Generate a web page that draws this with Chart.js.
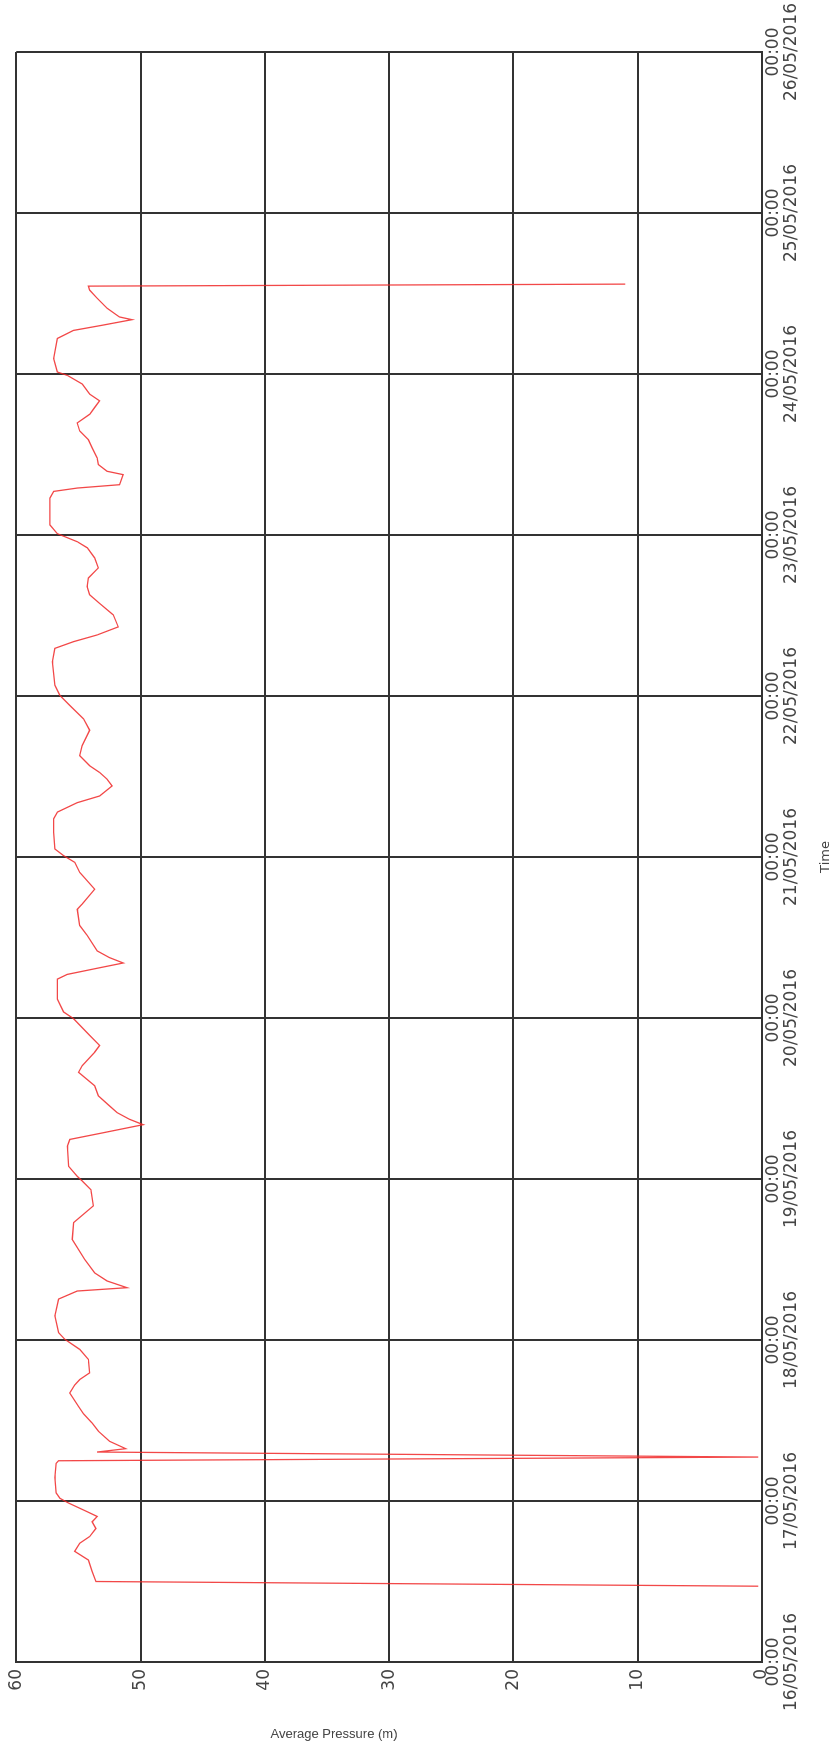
<!DOCTYPE html>
<html>
<head>
<meta charset="utf-8">
<script src="https://cdn.jsdelivr.net/npm/chart.js@4"></script>
<style>
  html, body { margin: 0; padding: 0; background: #fff; overflow: hidden; }
  /* the chart is drawn landscape and turned a quarter turn to the left */
  #wrap {
    position: absolute; left: 0; top: 0;
    width: 1748px; height: 833px;
    transform-origin: 0 0;
    transform: translate(0, 1748px) rotate(-90deg);
  }
</style>
</head>
<body>
<div id="wrap"><canvas id="chart" width="1748" height="833"></canvas></div>
<script>
// hours since 16/05/2016 00:00
const hours = [
  11.3, 12.0, 13.5, 15.2, 16.5, 17.7, 18.7, 19.9, 20.9, 21.7, 22.4, 23.7, 24.4, 25.2, 27.5, 29.6,
  30.0, 30.55, 31.3, 31.8, 32.9, 34.4, 35.6, 37.0, 38.1, 40.1, 41.3, 42.1, 43.1, 45.1, 46.6, 48.1,
  49.1, 51.6, 54.1, 55.3, 55.8, 56.8, 58.0, 60.0, 63.0, 65.5, 68.0, 70.4, 71.7, 72.4, 73.9, 76.9,
  77.9, 78.9, 80.1, 80.9, 81.9, 82.9, 84.4, 85.9, 87.9, 88.9, 90.9, 91.9, 93.4, 95.9, 96.9, 98.8,
  101.8, 102.5, 103.3, 104.2, 105.0, 106.0, 108.3, 109.8, 112.2, 113.0, 115.2, 117.7, 119.2, 120.2,
  121.2, 123.7, 125.7, 126.7, 128.1, 129.1, 130.6, 131.6, 132.6, 133.6, 135.1, 136.6, 138.9, 140.6,
  142.6, 144.1, 145.6, 149.1, 151.1, 152.1, 153.1, 154.3, 156.1, 157.8, 159.1, 160.3, 161.6, 163.1,
  164.6, 166.1, 167.0, 168.2, 169.5, 173.5, 174.5, 175.0, 175.5, 177.0, 177.5, 178.5, 179.5, 181.0,
  182.2, 183.5, 184.7, 186.0, 187.0, 188.0, 189.0, 190.5, 191.8, 192.3, 194.3, 197.3, 198.5, 199.3,
  200.1, 200.5, 201.8, 203.3, 204.5, 205.1, 205.4
];
// average pressure (m)
const pressure = [
  0.3, 53.6, 53.9, 54.2, 55.3, 54.9, 54.1, 53.6, 53.9, 53.5, 54.3, 55.8, 56.5, 56.8, 56.9, 56.8,
  56.6, 0.3, 53.5, 51.2, 52.5, 53.4, 53.9, 54.6, 55.0, 55.7, 55.3, 54.9, 54.1, 54.2, 54.9, 56.1,
  56.6, 56.9, 56.6, 55.1, 51.1, 52.7, 53.7, 54.5, 55.5, 55.4, 53.8, 54.0, 54.7, 55.1, 55.8, 55.9,
  55.7, 53.0, 49.8, 50.9, 51.9, 52.5, 53.4, 53.7, 55.0, 54.7, 53.7, 53.3, 54.1, 55.4, 56.2, 56.7,
  56.7, 55.9, 53.8, 51.4, 52.5, 53.5, 54.3, 54.9, 55.1, 54.7, 53.7, 54.9, 55.3, 56.2,
  56.9, 57.0, 57.0, 56.7, 55.1, 53.3, 52.3, 52.7, 53.3, 54.1, 54.9, 54.7, 54.1, 54.6,
  55.7, 56.5, 56.9, 57.1, 56.9, 55.4, 53.5, 51.8, 52.2, 53.3, 54.1, 54.3, 54.2, 53.4,
  53.7, 54.3, 55.1, 56.7, 57.3, 57.3, 57.0, 55.1, 51.7, 51.4, 52.7, 53.4, 53.5, 53.9,
  54.2, 54.9, 55.1, 54.1, 53.7, 53.3, 54.1, 54.7, 55.9, 56.7, 57.0, 56.7, 55.4, 53.0,
  50.7, 51.7, 52.7, 53.5, 54.1, 54.2, 11.0
];
// tick labels on the time axis, one per day
const dayLabels = [
  "16/05/2016", "17/05/2016", "18/05/2016", "19/05/2016", "20/05/2016", "21/05/2016",
  "22/05/2016", "23/05/2016", "24/05/2016", "25/05/2016", "26/05/2016"
];
const pressureTitle = "Average Pressure (m)";

const points = hours.map((h, i) => ({ x: h, y: pressure[i] }));

// y axis title sits horizontal on the turned page, so draw it by hand
const sideTitle = {
  id: "sideTitle",
  afterDraw(chart) {
    const ctx = chart.ctx;
    ctx.save();
    ctx.translate(14, 334);
    ctx.rotate(Math.PI / 2);
    ctx.font = "13px 'Liberation Sans', Arial, sans-serif";
    ctx.fillStyle = "#444";
    ctx.textAlign = "center";
    ctx.textBaseline = "middle";
    ctx.fillText(pressureTitle, 0, 0);
    ctx.restore();
  }
};

const gridStyle = { color: "#333", lineWidth: 2, drawTicks: false };
const tickFont = { family: "'DejaVu Sans', sans-serif", size: 17, lineHeight: 1.1 };

new Chart(document.getElementById("chart"), {
  type: "line",
  data: {
    datasets: [{
      data: points,
      borderColor: "rgba(240, 40, 40, 0.85)",
      borderWidth: 1.3,
      pointRadius: 0,
      tension: 0,
      fill: false
    }]
  },
  options: {
    responsive: false,
    animation: false,
    devicePixelRatio: 1,
    layout: { padding: { top: 16, right: 52, left: 0, bottom: 0 } },
    plugins: { legend: { display: false }, tooltip: { enabled: false } },
    scales: {
      x: {
        type: "linear",
        position: "bottom",
        min: 0,
        max: 240,
        grid: gridStyle,
        border: { color: "#333", width: 2 },
        ticks: {
          stepSize: 24,
          autoSkip: false,
          maxRotation: 0,
          padding: 2,
          color: "#444",
          font: tickFont,
          callback: v => ["00:00", dayLabels[Math.round(v / 24)]]
        },
        title: {
          display: true,
          text: "Time",
          color: "#444",
          padding: 0,
          font: { family: "'DejaVu Sans', sans-serif", size: 13 }
        },
        afterFit: s => { s.height = 71; }
      },
      y: {
        type: "linear",
        position: "left",
        min: 0,
        max: 60,
        grid: gridStyle,
        border: { color: "#333", width: 2 },
        ticks: { stepSize: 10, padding: 7, color: "#444", font: tickFont },
        afterFit: s => { s.width = 86; }
      }
    }
  },
  plugins: [sideTitle]
});
</script>
</body>
</html>
